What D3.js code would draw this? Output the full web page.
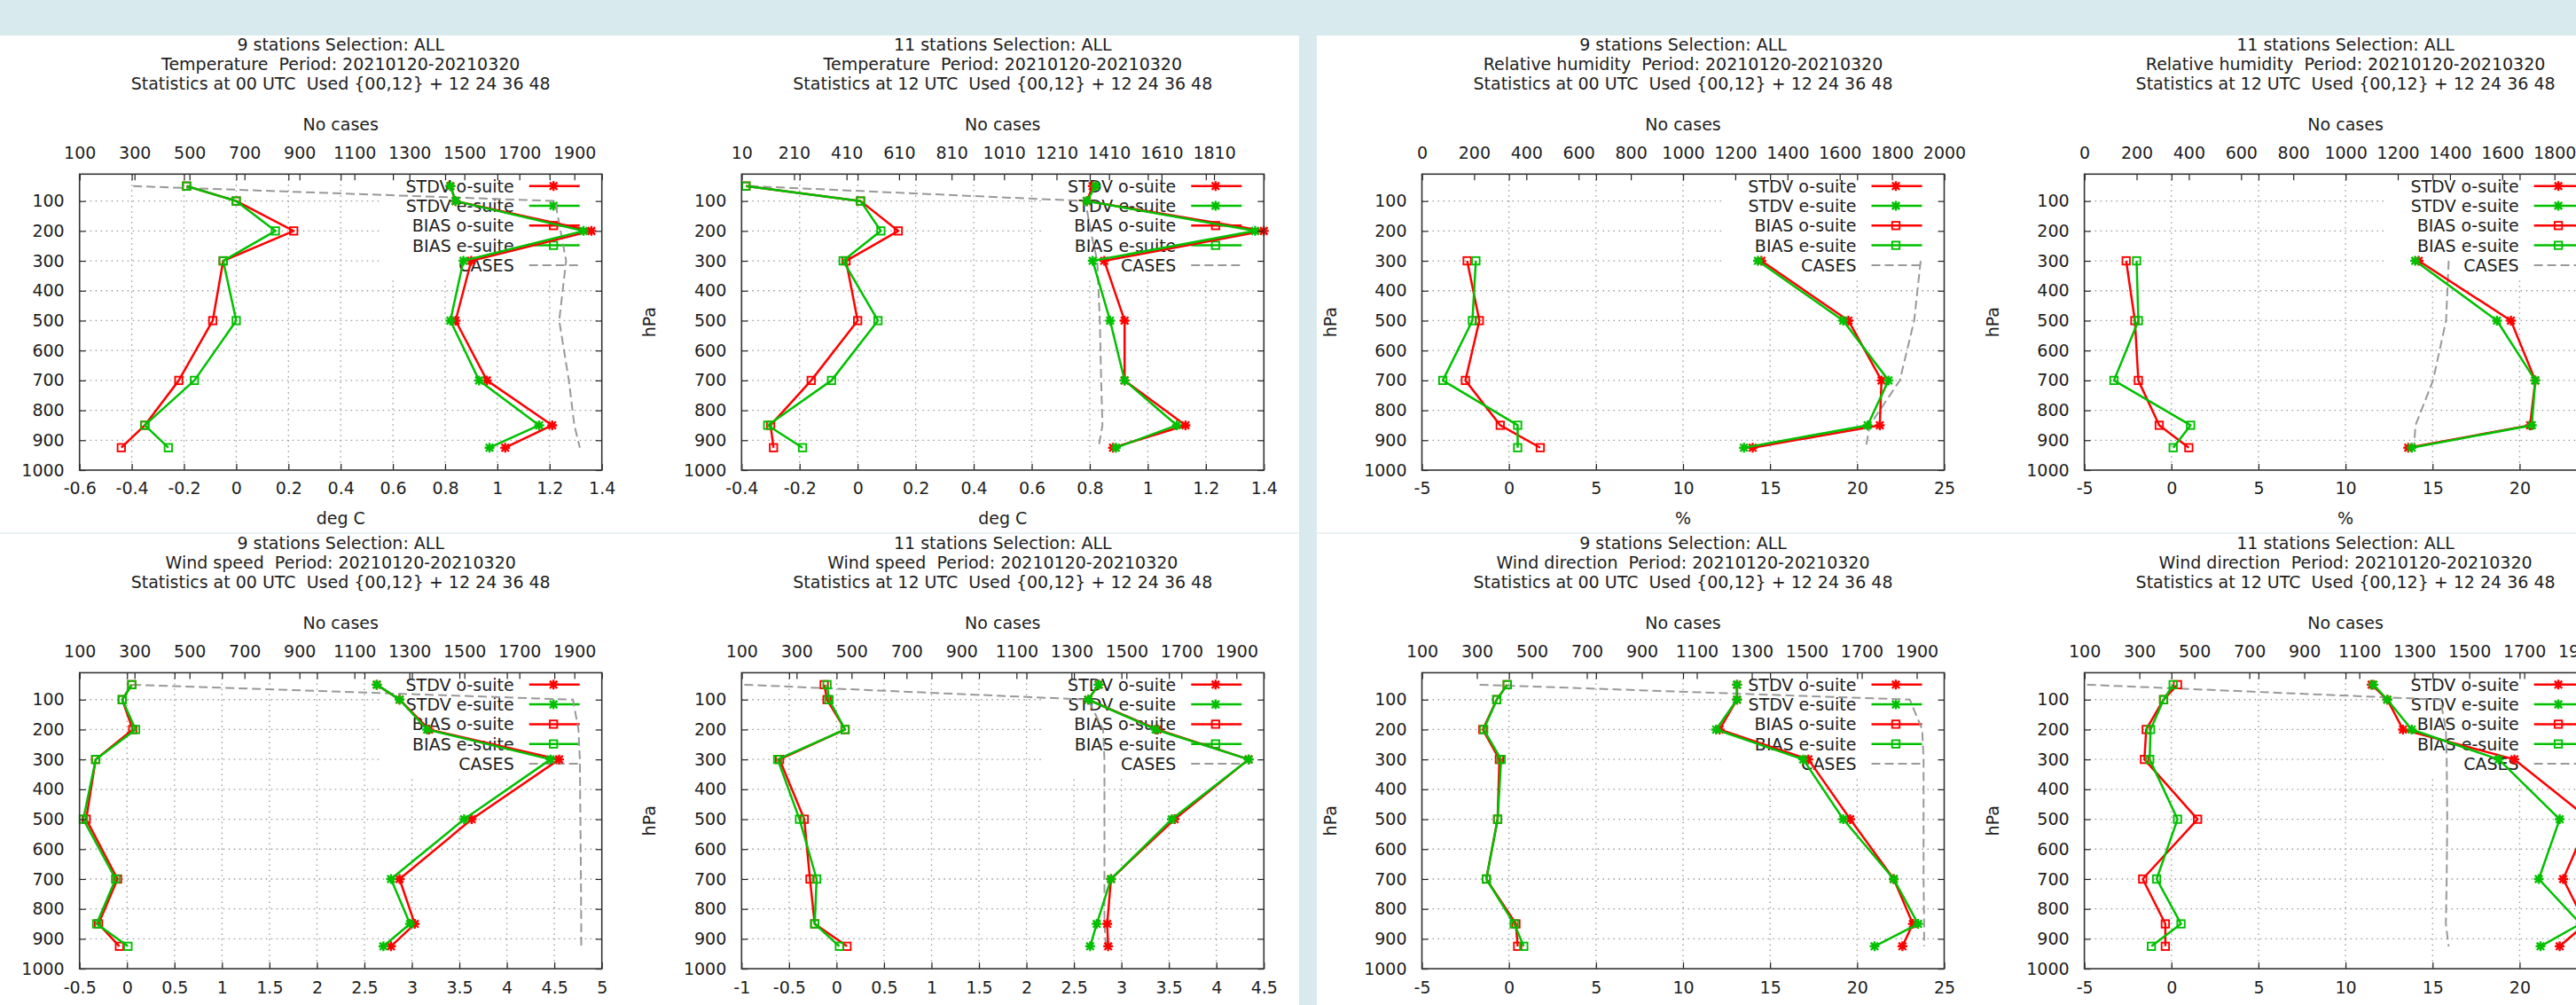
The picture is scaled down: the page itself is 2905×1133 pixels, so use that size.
<!DOCTYPE html>
<html>
<head>
<meta charset="utf-8">
<script src="https://d3js.org/d3.v7.min.js"></script>
<style>
body{margin:0;background:#d8eaed;overflow:hidden}
text{font-family:"DejaVu Sans",sans-serif;fill:#1e1e1e;white-space:pre}
</style>
</head>
<body>
<svg id="page" width="2905" height="1133"></svg>
<script>
// pressure levels (hPa)
var levels = [50, 100, 200, 300, 500, 700, 850, 925];
var rhLevels = [300, 500, 700, 850, 925];

// temperature 00 utc, 9 stations
var t00StdvO = [0.82, 0.84, 1.36, 0.90, 0.84, 0.96, 1.21, 1.03];
var t00StdvE = [0.82, 0.84, 1.33, 0.87, 0.82, 0.93, 1.16, 0.97];
var t00BiasO = [-0.19, 0.00, 0.22, -0.05, -0.09, -0.22, -0.35, -0.44];
var t00BiasE = [-0.19, 0.00, 0.15, -0.05, 0.00, -0.16, -0.35, -0.26];
var t00Cases = [295, 1830, 1850, 1870, 1845, 1880, 1900, 1920];

// temperature 12 utc, 11 stations
var t12StdvO = [0.81, 0.79, 1.40, 0.85, 0.92, 0.92, 1.13, 0.88];
var t12StdvE = [0.82, 0.79, 1.37, 0.81, 0.87, 0.92, 1.10, 0.89];
var t12BiasO = [-0.385, 0.01, 0.14, -0.04, 0.00, -0.16, -0.30, -0.29];
var t12BiasE = [-0.385, 0.01, 0.08, -0.05, 0.07, -0.09, -0.31, -0.19];
var t12Cases = [40, 1320, 1340, 1365, 1375, 1380, 1385, 1370];

// relative humidity 00 utc
var rh00StdvO = [14.5, 19.5, 21.4, 21.3, 14.0];
var rh00StdvE = [14.3, 19.2, 21.8, 20.6, 13.5];
var rh00BiasO = [-2.4, -1.7, -2.5, -0.5, 1.8];
var rh00BiasE = [-1.9, -2.1, -3.8, 0.5, 0.5];
var rh00Cases = [1910, 1885, 1830, 1715, 1700];

// relative humidity 12 utc
var rh12StdvO = [14.2, 19.5, 20.9, 20.6, 13.6];
var rh12StdvE = [14.0, 18.7, 20.9, 20.7, 13.8];
var rh12BiasO = [-2.6, -2.1, -1.9, -0.7, 1.0];
var rh12BiasE = [-2.0, -1.9, -3.3, 1.1, 0.1];
var rh12Cases = [1395, 1385, 1335, 1268, 1262];

// wind speed 00 utc
var ws00StdvO = [2.63, 2.87, 3.18, 4.55, 3.63, 2.87, 3.03, 2.78];
var ws00StdvE = [2.63, 2.87, 3.16, 4.46, 3.55, 2.78, 2.98, 2.70];
var ws00BiasO = [0.05, -0.05, 0.06, -0.33, -0.43, -0.10, -0.30, -0.08];
var ws00BiasE = [0.05, -0.05, 0.09, -0.33, -0.46, -0.12, -0.32, 0.01];
var ws00Cases = [292, 1895, 1915, 1920, 1922, 1924, 1925, 1925];

// wind speed 12 utc
var ws12StdvO = [2.76, 2.65, 3.38, 4.34, 3.56, 2.89, 2.85, 2.86];
var ws12StdvE = [2.76, 2.65, 3.36, 4.34, 3.53, 2.89, 2.74, 2.67];
var ws12BiasO = [-0.13, -0.10, 0.09, -0.60, -0.34, -0.28, -0.23, 0.11];
var ws12BiasE = [-0.10, -0.08, 0.09, -0.62, -0.39, -0.21, -0.23, 0.03];
var ws12Cases = [110, 1360, 1415, 1420, 1420, 1420, 1420, 1425];

// wind direction 00 utc
var wd00StdvO = [13.1, 13.1, 12.1, 17.2, 19.6, 22.1, 23.2, 22.6];
var wd00StdvE = [13.1, 13.1, 11.9, 16.9, 19.2, 22.1, 23.5, 21.0];
var wd00BiasO = [-0.1, -0.7, -1.5, -0.55, -0.65, -1.3, 0.4, 0.5];
var wd00BiasE = [-0.1, -0.7, -1.45, -0.45, -0.65, -1.3, 0.3, 0.85];
var wd00Cases = [310, 1875, 1920, 1925, 1925, 1925, 1927, 1927];

// wind direction 12 utc
var wd12StdvO = [11.5, 12.4, 13.3, 19.7, 24.0, 22.5, 23.8, 22.3];
var wd12StdvE = [11.6, 12.4, 13.8, 18.8, 22.3, 21.1, 23.5, 21.2];
var wd12BiasO = [0.35, -0.45, -1.45, -1.55, 1.5, -1.65, -0.35, -0.35];
var wd12BiasE = [0.1, -0.45, -1.2, -1.25, 0.35, -0.85, 0.55, -1.15];
var wd12Cases = [110, 1395, 1415, 1418, 1420, 1418, 1415, 1425];

// tick labels
var pressTicks = [100, 200, 300, 400, 500, 600, 700, 800, 900, 1000];
var t00Ticks = [-0.6, -0.4, -0.2, 0, 0.2, 0.4, 0.6, 0.8, 1, 1.2, 1.4];
var t12Ticks = [-0.4, -0.2, 0, 0.2, 0.4, 0.6, 0.8, 1, 1.2, 1.4];
var rhTicks = [-5, 0, 5, 10, 15, 20, 25];
var ws00Ticks = [-0.5, 0, 0.5, 1, 1.5, 2, 2.5, 3, 3.5, 4, 4.5, 5];
var ws12Ticks = [-1, -0.5, 0, 0.5, 1, 1.5, 2, 2.5, 3, 3.5, 4, 4.5];
var caseTicks = [100, 300, 500, 700, 900, 1100, 1300, 1500, 1700, 1900];
var caseTicks10 = [10, 210, 410, 610, 810, 1010, 1210, 1410, 1610, 1810];
var caseTicks0 = [0, 200, 400, 600, 800, 1000, 1200, 1400, 1600, 1800, 2000];

var legendLabels = ['STDV o-suite', 'STDV e-suite', 'BIAS o-suite', 'BIAS e-suite', 'CASES'];

var period = '  Period: 20210120-20210320';
var used = '  Used {00,12} + 12 24 36 48';

var panels = [
	{st: 9, name: 'Temperature', utc: '00', lev: levels, s: [t00StdvO, t00StdvE, t00BiasO, t00BiasE], cases: t00Cases, xt: t00Ticks, x2t: caseTicks, x2max: 2000, xlabel: 'deg C', col: 0, row: 0},
	{st: 11, name: 'Temperature', utc: '12', lev: levels, s: [t12StdvO, t12StdvE, t12BiasO, t12BiasE], cases: t12Cases, xt: t12Ticks, x2t: caseTicks10, x2max: 2000, xlabel: 'deg C', col: 1, row: 0},
	{st: 9, name: 'Relative humidity', utc: '00', lev: rhLevels, s: [rh00StdvO, rh00StdvE, rh00BiasO, rh00BiasE], cases: rh00Cases, xt: rhTicks, x2t: caseTicks0, x2max: 2000, xlabel: '%', col: 2, row: 0},
	{st: 11, name: 'Relative humidity', utc: '12', lev: rhLevels, s: [rh12StdvO, rh12StdvE, rh12BiasO, rh12BiasE], cases: rh12Cases, xt: rhTicks, x2t: caseTicks0, x2max: 2000, xlabel: '%', col: 3, row: 0},
	{st: 9, name: 'Wind speed', utc: '00', lev: levels, s: [ws00StdvO, ws00StdvE, ws00BiasO, ws00BiasE], cases: ws00Cases, xt: ws00Ticks, x2t: caseTicks, x2max: 2000, xlabel: null, col: 0, row: 1},
	{st: 11, name: 'Wind speed', utc: '12', lev: levels, s: [ws12StdvO, ws12StdvE, ws12BiasO, ws12BiasE], cases: ws12Cases, xt: ws12Ticks, x2t: caseTicks, x2max: 2000, xlabel: null, col: 1, row: 1},
	{st: 9, name: 'Wind direction', utc: '00', lev: levels, s: [wd00StdvO, wd00StdvE, wd00BiasO, wd00BiasE], cases: wd00Cases, xt: rhTicks, x2t: caseTicks, x2max: 2000, xlabel: null, col: 2, row: 1},
	{st: 11, name: 'Wind direction', utc: '12', lev: levels, s: [wd12StdvO, wd12StdvE, wd12BiasO, wd12BiasE], cases: wd12Cases, xt: rhTicks, x2t: caseTicks, x2max: 2000, xlabel: null, col: 3, row: 1}
];

//layout of the screenshot
var colLeft = [89.7, 836.3, 1603.5, 2350.6];
var rowTop = [196.3, 758.4];
var W = 589, H = 333.7;
var FS = 19;
var RED = '#ff0000', GREEN = '#00c000', GREY = '#999', INK = '#222';
var styles = [
	{c: RED, m: 'star'}, {c: GREEN, m: 'star'},
	{c: RED, m: 'box'}, {c: GREEN, m: 'box'}
];

var svg = d3.select('#page');

// page blocks
svg.append('rect').attr('x', 0).attr('y', 40).attr('width', 1465).attr('height', 1093).attr('fill', '#fff');
svg.append('rect').attr('x', 1485).attr('y', 40).attr('width', 1420).attr('height', 1093).attr('fill', '#fff');
svg.append('rect').attr('x', 0).attr('y', 600.5).attr('width', 2905).attr('height', 1.2).attr('fill', '#dcecef');
svg.append('rect').attr('x', 1465).attr('y', 40).attr('width', 20).attr('height', 1093).attr('fill', '#d8eaed');

function fmt(v) { return String(+v.toFixed(2)); }

function marker(g, type, color, cx, cy) {
	if (type == 'star') {
		g.append('path')
			.attr('d', 'M-5.5,0H5.5M0,-5.5V5.5M-4.2,-4.2L4.2,4.2M-4.2,4.2L4.2,-4.2')
			.attr('transform', 'translate(' + cx + ',' + cy + ')')
			.attr('stroke', color).attr('stroke-width', 2.4).attr('fill', 'none');
	} else {
		g.append('rect')
			.attr('x', cx - 4.2).attr('y', cy - 4.2).attr('width', 8.4).attr('height', 8.4)
			.attr('stroke', color).attr('stroke-width', 1.9).attr('fill', 'none');
	}
}

function styleAxis(a) {
	a.select('.domain').remove();
	a.attr('font-size', FS).attr('font-family', '"DejaVu Sans", sans-serif').attr('color', INK);
	a.selectAll('line').attr('stroke-width', 1.2);
}

function drawPanel(p) {
	var left = colLeft[p.col], top = rowTop[p.row];
	var right = left + W, bottom = top + H;
	var g = svg.append('g');

	var x = d3.scaleLinear().domain(d3.extent(p.xt)).range([left, right]);
	var x2 = d3.scaleLinear().domain([p.x2t[0], p.x2max]).range([left, right]);
	var y = d3.scaleLinear().domain([10, 1000]).range([top, bottom]);

	// titles
	var cx = left + W / 2;
	var titles = [p.st + ' stations Selection: ALL', p.name + period, 'Statistics at ' + p.utc + ' UTC' + used];
	titles.forEach(function(t, i) {
		g.append('text').attr('x', cx).attr('y', top - 146.6 + i * 22.2)
			.attr('text-anchor', 'middle').attr('dominant-baseline', 'central')
			.attr('font-size', FS).text(t);
	});
	g.append('text').attr('x', cx).attr('y', top - 56.6)
		.attr('text-anchor', 'middle').attr('dominant-baseline', 'central')
		.attr('font-size', FS).text('No cases');
	if (p.xlabel) {
		g.append('text').attr('x', cx).attr('y', bottom + 53.6)
			.attr('text-anchor', 'middle').attr('dominant-baseline', 'central')
			.attr('font-size', FS).text(p.xlabel);
	}
	g.append('text')
		.attr('transform', 'translate(' + (left - 104) + ',' + (top + H / 2) + ') rotate(-90)')
		.attr('text-anchor', 'middle').attr('dominant-baseline', 'central')
		.attr('font-size', FS).text('hPa');

	// grid
	var grid = g.append('g').attr('stroke', '#999').attr('stroke-width', 1.3).attr('stroke-dasharray', '1.5,4.5');
	p.xt.slice(1, -1).forEach(function(v) {
		grid.append('line').attr('x1', x(v)).attr('x2', x(v)).attr('y1', top).attr('y2', bottom);
	});
	pressTicks.slice(0, -1).forEach(function(v) {
		grid.append('line').attr('x1', left).attr('x2', right).attr('y1', y(v)).attr('y2', y(v));
	});

	// key, opaque over the grid
	g.append('rect').attr('x', right - 250).attr('y', top + 1).attr('width', 249).attr('height', 115).attr('fill', '#fff');
	legendLabels.forEach(function(lab, i) {
		var ky = top + 13.4 + i * 22.3;
		g.append('text').attr('x', right - 99).attr('y', ky)
			.attr('text-anchor', 'end').attr('dominant-baseline', 'central')
			.attr('font-size', FS).text(lab);
		if (i < 4) {
			g.append('line').attr('x1', right - 82).attr('x2', right - 25).attr('y1', ky).attr('y2', ky)
				.attr('stroke', styles[i].c).attr('stroke-width', 2.5);
			marker(g, styles[i].m, styles[i].c, right - 54.5, ky);
		} else {
			g.append('line').attr('x1', right - 82).attr('x2', right - 25).attr('y1', ky).attr('y2', ky)
				.attr('stroke', GREY).attr('stroke-width', 2).attr('stroke-dasharray', '10,5');
		}
	});

	// no of cases on the top axis
	var casePts = p.lev.map(function(l, i) { return {p: l, v: p.cases[i]}; });
	g.append('path').datum(casePts)
		.attr('d', d3.line().x(function(d) { return x2(d.v); }).y(function(d) { return y(d.p); }))
		.attr('fill', 'none').attr('stroke', GREY).attr('stroke-width', 2).attr('stroke-dasharray', '10,5');

	// stdv and bias profiles
	p.s.forEach(function(vals, k) {
		var pts = p.lev.map(function(l, i) { return {p: l, v: vals[i]}; });
		g.append('path').datum(pts)
			.attr('d', d3.line().x(function(d) { return x(d.v); }).y(function(d) { return y(d.p); }))
			.attr('fill', 'none').attr('stroke', styles[k].c).attr('stroke-width', 2.5).attr('stroke-linejoin', 'round');
		pts.forEach(function(d) { marker(g, styles[k].m, styles[k].c, x(d.v), y(d.p)); });
	});

	// axes, ticks pointing inwards
	var ay = g.append('g').attr('transform', 'translate(' + left + ',0)')
		.call(d3.axisLeft(y).tickValues(pressTicks).tickSize(-7).tickPadding(17).tickFormat(fmt));
	styleAxis(ay);
	var ay2 = g.append('g').attr('transform', 'translate(' + right + ',0)')
		.call(d3.axisRight(y).tickValues(pressTicks).tickSize(-7).tickFormat(''));
	styleAxis(ay2);
	var ax = g.append('g').attr('transform', 'translate(0,' + bottom + ')')
		.call(d3.axisBottom(x).tickValues(p.xt).tickSize(-7).tickPadding(14).tickFormat(fmt));
	styleAxis(ax);
	var axm = g.append('g').attr('transform', 'translate(0,' + top + ')')
		.call(d3.axisTop(x).tickValues(p.xt).tickSize(-7).tickFormat(''));
	styleAxis(axm);
	var ax2 = g.append('g').attr('transform', 'translate(0,' + top + ')')
		.call(d3.axisTop(x2).tickValues(p.x2t).tickSize(-7).tickPadding(17).tickFormat(fmt));
	styleAxis(ax2);

	g.append('rect').attr('x', left).attr('y', top).attr('width', W).attr('height', H)
		.attr('fill', 'none').attr('stroke', '#333').attr('stroke-width', 1.6);
}

panels.forEach(drawPanel);
</script>
</body>
</html>
